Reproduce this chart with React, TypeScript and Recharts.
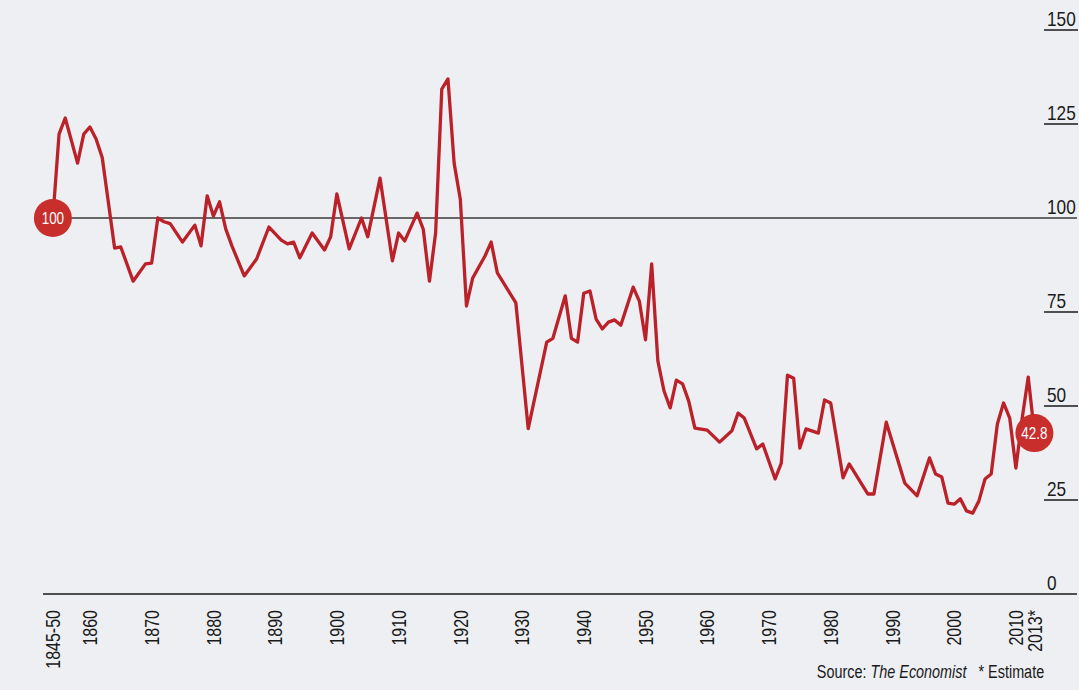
import React from "react";
import { LineChart, Line, XAxis, YAxis, ReferenceLine, ReferenceDot } from "recharts";

// first point stands for the "1845-50" average
const years = [
  1854, 1855, 1856, 1858, 1859, 1860, 1861, 1862, 1864, 1865, 1867, 1869, 1870, 1871, 1872, 1873,
  1875, 1877, 1878, 1879, 1880, 1881, 1882, 1883, 1885, 1887, 1889, 1891, 1892, 1893, 1894, 1896,
  1898, 1899, 1900, 1902, 1904, 1905, 1907, 1909, 1910, 1911, 1913, 1914, 1915, 1916, 1917, 1918,
  1919, 1920, 1921, 1922, 1924, 1925, 1926, 1929, 1931, 1934, 1935, 1937, 1938, 1939, 1940, 1941,
  1942, 1943, 1944, 1945, 1946, 1948, 1949, 1950, 1951, 1952, 1953, 1954, 1955, 1956, 1957, 1958,
  1960, 1962, 1964, 1965, 1966, 1968, 1969, 1971, 1972, 1973, 1974, 1975, 1976, 1978, 1979, 1980,
  1982, 1983, 1986, 1987, 1989, 1992, 1994, 1996, 1997, 1998, 1999, 2000, 2001, 2002, 2003, 2004,
  2005, 2006, 2007, 2008, 2009, 2010, 2011, 2012, 2013,
];
const values = [
  100, 122.3, 126.6, 114.6, 122.3, 124.2, 121, 116, 92, 92.3, 83.2, 87.8, 88, 100, 99, 98.5,
  93.6, 98.1, 92.6, 105.9, 100.5, 104.3, 97.1, 92.6, 84.6, 89.1, 97.6, 94.1, 93.1, 93.6, 89.4, 96,
  91.5, 95, 106.4, 91.8, 100, 95, 110.6, 88.6, 96, 93.9, 101.3, 97, 83.2, 96, 134.3, 137,
  114.6, 105, 76.6, 84, 89.9, 93.6, 85.4, 77.4, 44, 67, 68, 79.3, 68, 67, 80, 80.6,
  73.1, 70.5, 72.3, 72.9, 71.5, 81.6, 77.9, 67.6, 87.8, 62, 54, 49.5, 56.9, 55.9, 51.3, 44.1,
  43.6, 40.4, 43.4, 48.1, 46.8, 38.6, 39.9, 30.6, 34.8, 58.2, 57.4, 38.8, 43.9, 42.8, 51.6, 50.8,
  30.9, 34.6, 26.6, 26.6, 45.7, 29.5, 26.1, 36.2, 31.9, 31.1, 24.2, 23.9, 25.3, 22.1, 21.5, 24.7,
  30.6, 31.9, 45.2, 50.8, 46.8, 33.5, 46.5, 57.7, 42.8,
];

const xTicks = [1854, 1860, 1870, 1880, 1890, 1900, 1910, 1920, 1930, 1940, 1950, 1960, 1970, 1980, 1990, 2000, 2010, 2013];
const xTickLabels = ["1845-50", "1860", "1870", "1880", "1890", "1900", "1910", "1920", "1930", "1940", "1950", "1960", "1970", "1980", "1990", "2000", "2010", "2013*"];
const yTicks = [0, 25, 50, 75, 100, 125, 150];

const data = years.map((y, i) => ({ year: y, value: values[i] }));

const CHART_W = 1079;
const CHART_H = 690;
const MARGIN = { top: 30, right: 2, left: 43, bottom: 0 };
const PLOT_RIGHT = CHART_W - MARGIN.right;

const FONT = "'Liberation Sans', Arial, sans-serif";
const RED = "#bb2129";
const DOT = "#c82e2b";
const INK = "#1a1a1a";

const XTick = (props: any) => {
  const { x, y, payload } = props;
  const i = xTicks.indexOf(payload.value);
  const ty = y + 16;
  return (
    <g transform={`translate(${x}, ${ty}) rotate(-90) scale(0.8, 1)`}>
      <text x={0} y={0} textAnchor="end" dy="0.36em" fontSize={20} fill={INK} fontFamily={FONT}>
        {xTickLabels[i]}
      </text>
    </g>
  );
};

const YTick = (props: any) => {
  const { y, payload } = props;
  const v = payload.value;
  const left = PLOT_RIGHT - 30;
  return (
    <g>
      {v !== 0 && v !== 100 && (
        <line x1={PLOT_RIGHT - 33} x2={PLOT_RIGHT + 1} y1={y} y2={y} stroke={INK} strokeWidth={1.4} />
      )}
      <g transform={`translate(${left}, ${y - 4}) scale(0.82, 1)`}>
        <text x={0} y={0} textAnchor="start" fontSize={21} fill={INK} fontFamily={FONT}>
          {v}
        </text>
      </g>
    </g>
  );
};

const makeBadge = (text: string) => (props: any) => {
  const { cx, cy } = props;
  return (
    <g>
      <circle cx={cx} cy={cy} r={19} fill={DOT} />
      <g transform={`translate(${cx}, ${cy}) scale(0.84, 1)`}>
        <text x={0} y={0} dy="0.36em" textAnchor="middle" fontSize={16} fill="#ffffff" fontFamily={FONT}>
          {text}
        </text>
      </g>
    </g>
  );
};

export default function App() {
  const last = values.length - 1;
  return (
    <div
      style={{
        position: "absolute",
        left: 0,
        top: 0,
        width: CHART_W,
        height: CHART_H,
        background: "#edeff2",
        overflow: "hidden",
      }}
    >
      <LineChart width={CHART_W} height={CHART_H} data={data} margin={MARGIN}>
        <XAxis
          dataKey="year"
          type="number"
          domain={[1852.4, 2019.9]}
          ticks={xTicks}
          interval={0}
          allowDataOverflow
          tick={<XTick />}
          tickLine={false}
          tickSize={0}
          tickMargin={0}
          height={96}
          axisLine={{ stroke: INK, strokeWidth: 1.6 }}
        />
        <YAxis
          orientation="right"
          mirror
          width={40}
          domain={[0, 150]}
          ticks={yTicks}
          interval={0}
          tick={<YTick />}
          tickLine={false}
          tickSize={0}
          tickMargin={0}
          axisLine={false}
        />
        <ReferenceLine y={100} stroke="#3a3a3a" strokeWidth={1.3} ifOverflow="visible" />
        <Line
          type="linear"
          dataKey="value"
          stroke={RED}
          strokeWidth={3.3}
          strokeLinejoin="round"
          dot={false}
          activeDot={false}
          isAnimationActive={false}
        />
        <ReferenceDot x={years[0]} y={values[0]} r={19} shape={makeBadge(String(values[0]))} />
        <ReferenceDot x={years[last]} y={values[last]} r={19} shape={makeBadge(String(values[last]))} />
      </LineChart>
      <div
        style={{
          position: "absolute",
          right: 35,
          top: 662,
          fontFamily: FONT,
          fontSize: 18,
          color: INK,
          whiteSpace: "nowrap",
          transform: "scaleX(0.8)",
          transformOrigin: "right center",
        }}
      >
        Source: <i>The Economist</i>&nbsp;&nbsp; * Estimate
      </div>
    </div>
  );
}
